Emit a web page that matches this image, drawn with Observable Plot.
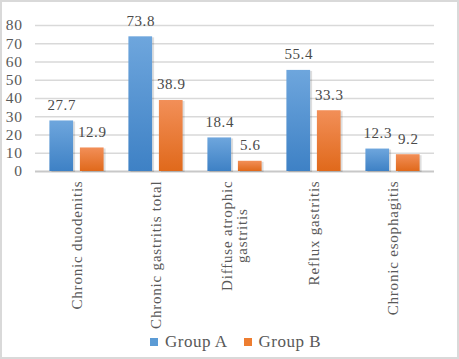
<!DOCTYPE html>
<html><head><meta charset="utf-8">
<script src="https://cdn.jsdelivr.net/npm/d3@7"></script>
<script src="https://cdn.jsdelivr.net/npm/@observablehq/plot@0.6"></script>
<style>
body{margin:0;background:#fff;font-family:"Liberation Serif",serif;}
#wrap{position:relative;width:459px;height:359px;overflow:hidden;background:#fff;font-family:"Liberation Serif",serif;}
#frame{position:absolute;left:0;top:0;width:459px;height:359px;box-sizing:border-box;border:2px solid #d9d9d9;pointer-events:none;}
#chart svg{display:block;font-family:"Liberation Serif",serif !important;}
#chart svg text{letter-spacing:0.6px;font-family:"Liberation Serif",serif;}
#chart svg .xaxis text{letter-spacing:0.8px;}
#legend{position:absolute;left:150px;top:332px;display:flex;align-items:center;font-family:"Liberation Serif",serif;font-size:17px;color:#595959;letter-spacing:0.5px;line-height:20px;}
.item{display:flex;align-items:center;margin-right:16px;}
.sw{display:inline-block;width:8px;height:8px;margin-right:7px;}
</style></head><body>
<div id="wrap"><div id="chart"></div><div id="legend"></div><div id="frame"></div></div>
<script>
const categories = ["Chronic duodenitis","Chronic gastritis total","Diffuse atrophic gastritis","Reflux gastritis","Chronic esophagitis"];
const tickLabels = ["Chronic duodenitis","Chronic gastritis total","Diffuse atrophic\ngastritis","Reflux gastritis","Chronic esophagitis"];
const groupNames = ["Group A","Group B"];
const groupA = [27.7,73.8,18.4,55.4,12.3];
const groupB = [12.9,38.9,5.6,33.3,9.2];
const yTicks = [0,10,20,30,40,50,60,70,80];
const swatchColors = ["#5b9bd5","#ed7d31"];

const dataA = categories.map((c,i)=>({category:c, value:groupA[i]}));
const dataB = categories.map((c,i)=>({category:c, value:groupB[i]}));
const labelOf = new Map(categories.map((c,i)=>[c,tickLabels[i]]));

const barA = {insetLeft:12.4, insetRight:42.9};
const barB = {insetLeft:42.9, insetRight:12.4};

const plot = Plot.plot({
  width:459, height:330,
  marginLeft:35, marginRight:25, marginTop:25, marginBottom:159,
  style:{fontFamily:"Liberation Serif", fontSize:"15px", color:"#595959", background:"transparent"},
  x:{domain:categories, padding:0},
  y:{domain:[0,80]},
  marks:[
    Plot.ruleY(yTicks.slice(1), {stroke:"#d9d9d9", strokeWidth:1.6}),
    Plot.ruleY([0], {stroke:"#c8c8c8", strokeWidth:1.8}),
    Plot.barY(dataA, {x:"category", y:"value", ...barA, fill:"#000", fillOpacity:0.13, dx:2, dy:1}),
    Plot.barY(dataB, {x:"category", y:"value", ...barB, fill:"#000", fillOpacity:0.13, dx:2, dy:1}),
    Plot.barY(dataA, {x:"category", y:"value", ...barA, fill:"url(#gradA)"}),
    Plot.barY(dataB, {x:"category", y:"value", ...barB, fill:"url(#gradB)"}),
    Plot.text(dataA, {x:"category", y:"value", text:d=>d.value.toFixed(1), dx:-15.25, dy:-16, fill:"#4a4a4a", fontSize:15}),
    Plot.text(dataB, {x:"category", y:"value", text:d=>d.value.toFixed(1), dx:15.25, dy:-16, fill:"#4a4a4a", fontSize:15}),
    Plot.axisY({ticks:yTicks, tickSize:0, tickPadding:13, fontSize:15.5, fill:"#595959", label:null}),
    Plot.axisX({tickSize:0, tickPadding:9, rotate:-90, textAnchor:"end", lineAnchor:"middle", fontSize:15, fill:"#595959", label:null, tickFormat:d=>labelOf.get(d), className:"xaxis"})
  ]
});

const defs = d3.select(plot).insert("defs", ":first-child");
const gA = defs.append("linearGradient").attr("id","gradA").attr("x1",0).attr("y1",0).attr("x2",0).attr("y2",1);
gA.append("stop").attr("offset","0").attr("stop-color","#6ea6dd");
gA.append("stop").attr("offset","1").attr("stop-color","#3e81c5");
const gB = defs.append("linearGradient").attr("id","gradB").attr("x1",0).attr("y1",0).attr("x2",0).attr("y2",1);
gB.append("stop").attr("offset","0").attr("stop-color","#f28f58");
gB.append("stop").attr("offset","1").attr("stop-color","#e0691b");

document.getElementById("chart").appendChild(plot);

d3.select(plot).selectAll(".xaxis text").each(function(){
  const tspans = this.querySelectorAll("tspan");
  if (tspans.length > 1) {
    let maxLen = 0;
    tspans.forEach(t=>{ maxLen = Math.max(maxLen, t.getComputedTextLength()); });
    this.setAttribute("text-anchor","middle");
    tspans.forEach(t=>{ t.setAttribute("x", -maxLen/2); });
  }
});

const legend = d3.select("#legend");
groupNames.forEach((g,i)=>{
  const it = legend.append("div").attr("class","item");
  it.append("span").attr("class","sw").style("background", swatchColors[i]);
  it.append("span").text(g);
});
</script>
</body></html>
